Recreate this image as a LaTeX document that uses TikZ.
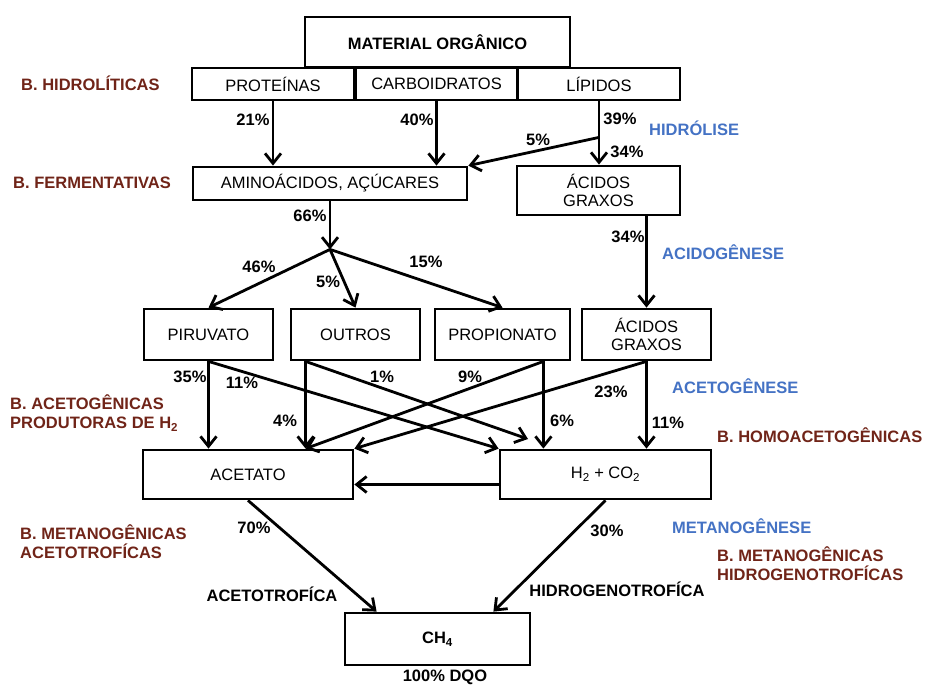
\documentclass[tikz,border=0pt]{standalone}
\usepackage{fontspec}
\setmainfont{Liberation Sans}
\usetikzlibrary{arrows.meta}
\definecolor{bactbrown}{RGB}{112,36,24}
\definecolor{stageblue}{RGB}{68,114,196}
\begin{document}
\begin{tikzpicture}[x=1pt,y=-1pt,
  box/.style={draw,line width=2.8pt,inner sep=0pt,align=center,font=\fontsize{16.5}{18.5}\selectfont},
  arr/.style={line width=2.8pt,-{Straight Barb[length=10pt,width=16pt]}},
  pct/.style={inner sep=0pt,font=\fontsize{16.5}{19}\selectfont\bfseries},
  bact/.style={anchor=west,inner sep=0pt,align=left,text=bactbrown,font=\fontsize{16.5}{19.5}\selectfont\bfseries},
  stage/.style={anchor=west,inner sep=0pt,text=stageblue,font=\fontsize{16.5}{19}\selectfont\bfseries}]
\useasboundingbox (0,0) rectangle (925,686);
\node[box,font=\fontsize{16.5}{18.5}\selectfont\bfseries,minimum width=265pt,minimum height=50pt] (mat) at (437.5,42) {MATERIAL ORGÂNICO};
\node[box,minimum width=162pt,minimum height=32pt] (prot) at (273,84) {PROTEÍNAS};
\node[box,minimum width=161pt,minimum height=32pt] (carb) at (436.5,84) {CARBOIDRATOS};
\node[box,minimum width=162pt,minimum height=32pt] (lip) at (599,84) {LÍPIDOS};
\node[box,minimum width=274pt,minimum height=33pt] (amino) at (330,183.5) {AMINOÁCIDOS, AÇÚCARES};
\node[box,minimum width=163pt,minimum height=49pt] (acg1) at (598.5,190.5) {ÁCIDOS\\GRAXOS};
\node[box,minimum width=129pt,minimum height=51pt] (piru) at (208.5,334.5) {PIRUVATO};
\node[box,minimum width=129pt,minimum height=51pt] (outr) at (355.5,334.5) {OUTROS};
\node[box,minimum width=135pt,minimum height=51pt] (prop) at (502.5,334.5) {PROPIONATO};
\node[box,minimum width=129pt,minimum height=51pt] (acg2) at (646.5,334.5) {ÁCIDOS\\GRAXOS};
\node[box,minimum width=210pt,minimum height=49pt] (acet) at (248,474.5) {ACETATO};
\node[box,minimum width=211pt,minimum height=49pt] (h2) at (605.5,474.5) {H\textsubscript{2} + CO\textsubscript{2}};
\node[box,font=\fontsize{16.5}{18.5}\selectfont\bfseries,minimum width=185pt,minimum height=52pt] (ch4) at (437.5,639) {CH\textsubscript{4}};
\coordinate (lipfork) at ([yshift=-36pt]lip.south);
\coordinate (fork) at ([yshift=-48pt]amino.south);
\coordinate (outsrc) at ([xshift=16pt]outr.south west);
\coordinate (propsrc) at ([xshift=-28pt]prop.south east);
\coordinate (outfree) at (528,439);
\draw[arr] (prot.south) -- (prot.south |- amino.north);
\draw[arr] (carb.south) -- (carb.south |- amino.north);
\draw[arr] (lip.south) -- (lip.south |- acg1.north);
\draw[arr] (lipfork) -- (amino.north east);
\draw[arr] (amino.south) -- (fork);
\draw[arr] (fork) -- (piru.north);
\draw[arr] (fork) -- (outr.north);
\draw[arr] (fork) -- (prop.north);
\draw[arr] (acg1.south -| acg2.north) -- (acg2.north);
\draw[arr] (piru.south) -- (piru.south |- acet.north);
\draw[arr] (piru.south) -- (h2.north west);
\draw[arr] (outsrc) -- (outsrc |- acet.north);
\draw[arr] (outsrc) -- (outfree);
\draw[arr] (propsrc) -- (propsrc |- h2.north);
\draw[arr] (propsrc) -- (outsrc |- acet.north);
\draw[arr] (acg2.south) -- (acet.north east);
\draw[arr] (acg2.south) -- (acg2.south |- h2.north);
\draw[arr] ([yshift=-10pt]h2.west) -- ([yshift=-10pt]acet.east);
\draw[arr] (acet.south) -- ([xshift=33pt]ch4.north west);
\draw[arr] (h2.south) -- ([xshift=-38pt]ch4.north east);
\node[pct] (p21) at (253,120) {21\%};
\node[pct] (p40) at (417,120) {40\%};
\node[pct] (p39) at (620,119) {39\%};
\node[pct] (p5a) at (538,140) {5\%};
\node[pct] (p34a) at (627,152) {34\%};
\node[pct] (p66) at (310,216) {66\%};
\node[pct] (p34b) at (628,237) {34\%};
\node[pct] (p46) at (259,267) {46\%};
\node[pct] (p5b) at (328,282) {5\%};
\node[pct] (p15) at (426,262) {15\%};
\node[pct] (p35) at (190,377) {35\%};
\node[pct] (p11a) at (242,383) {11\%};
\node[pct] (p1) at (382,377) {1\%};
\node[pct] (p9) at (470,377) {9\%};
\node[pct] (p23) at (611,392) {23\%};
\node[pct] (p4) at (285,421) {4\%};
\node[pct] (p6) at (562,421) {6\%};
\node[pct] (p11b) at (668,423) {11\%};
\node[pct] (p70) at (254,528) {70\%};
\node[pct] (p30) at (607,531) {30\%};
\node[pct] (acetotr) at (272,594) {ACETOTROFÍCA};
\node[pct] (hidrotr) at (617,589) {HIDROGENOTROFÍCA};
\node[pct] (dqo) at (445,677.5) {100\% DQO};
\node[bact] (bhidro) at (21,83) {B. HIDROLÍTICAS};
\node[bact] (bferm) at (13,183) {B. FERMENTATIVAS};
\node[bact] (bacetog) at (10,413) {B. ACETOGÊNICAS\\PRODUTORAS DE H\textsubscript{2}};
\node[bact] (bhomo) at (717,435) {B. HOMOACETOGÊNICAS};
\node[bact] (bmetac) at (20,541.5) {B. METANOGÊNICAS\\ACETOTROFÍCAS};
\node[bact] (bmeth) at (717,563.5) {B. METANOGÊNICAS\\HIDROGENOTROFÍCAS};
\node[stage] (hidrol) at (649,128) {HIDRÓLISE};
\node[stage] (acidog) at (662,252) {ACIDOGÊNESE};
\node[stage] (acetog) at (672,386) {ACETOGÊNESE};
\node[stage] (metanog) at (672,526) {METANOGÊNESE};
\end{tikzpicture}
\end{document}
